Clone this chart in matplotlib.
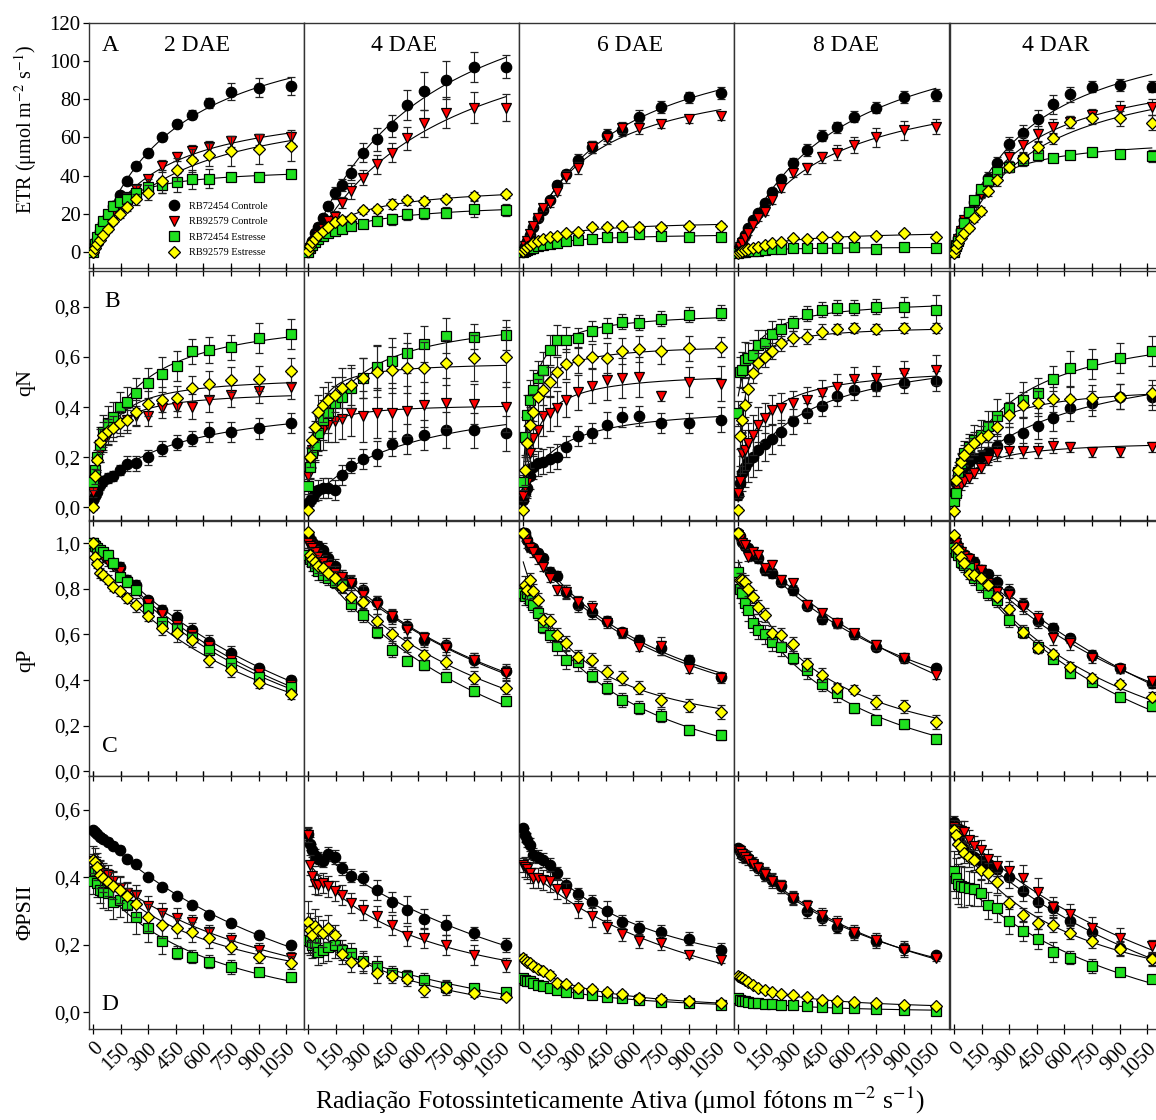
import numpy as np
import matplotlib
matplotlib.use("Agg")
import matplotlib.pyplot as plt
from matplotlib.lines import Line2D

plt.rcParams['font.family'] = ['Liberation Serif', 'DejaVu Serif']
plt.rcParams['mathtext.fontset'] = 'stix'

# light steps of the rapid light curves
par = [0, 10, 20, 35, 55, 80, 110, 145, 185, 235, 300, 375, 455, 535, 630, 750, 900, 1075]

days = ["2 DAE", "4 DAE", "6 DAE", "8 DAE", "4 DAR"]
series = ["RB72454 Controle", "RB92579 Controle", "RB72454 Estresse", "RB92579 Estresse"]

# every panel: [RB72454 Controle, RB92579 Controle, RB72454 Estresse, RB92579 Estresse]
etr_2dae = [
    [0, 4, 7, 11, 15, 19, 24, 30, 37, 45, 52, 60, 67, 72, 78, 84, 86, 87],
    [0, 3, 6, 9, 13, 17, 21, 25, 29, 33, 38, 45, 50, 53, 55, 58, 59, 60],
    [0, 4, 8, 12, 16, 20, 24, 26, 28, 31, 34, 35, 36.5, 38, 38.5, 39.5, 39.5, 41],
    [0, 2, 4, 6.5, 9, 12, 16, 20, 23.5, 27.5, 31, 37, 43, 48, 51, 53, 54, 55.7]]
etr_2dae_se = [
    [0.5, 0.5, 0.8, 1, 1, 1.2, 1.5, 1.5, 2, 2, 2, 2, 2, 2.5, 2.5, 4.5, 5, 4.5],
    [0.5, 0.5, 0.8, 1, 1, 1.2, 1.5, 1.5, 2, 2, 2.5, 3, 2.5, 3, 3, 3, 3, 3],
    [0.5, 0.5, 0.8, 1, 1.5, 2, 2.5, 3, 3, 4, 4, 4, 5, 5, 5, 2, 2, 2],
    [0.5, 0.5, 0.8, 1, 1, 1.5, 1.5, 2, 2, 3, 4, 6, 6, 6, 6, 8, 8, 8]]

etr_4dae = [
    [0, 3, 6, 10, 13, 18, 24, 31, 35, 41.5, 52, 59, 66, 77, 84.5, 90, 97, 97],
    [0, 2, 4, 6, 9, 12, 16, 18.5, 25.8, 32, 39, 46, 52, 59.5, 67.4, 73, 75.7, 75.7],
    [0, 2, 3.5, 5, 7, 8.5, 10, 11, 12, 13.5, 14.5, 16.4, 17.1, 19.7, 20.2, 20.6, 22.5, 22],
    [0.5, 3, 5, 7, 9, 11, 13.3, 15.9, 16.8, 17.6, 21.8, 22.3, 25, 27, 26.7, 28, 29.3, 30.2]]
etr_4dae_se = [
    [0.5, 1, 1, 1.5, 2, 2, 2, 3, 3, 4, 5, 6, 6, 8, 10, 10, 8, 6],
    [0.5, 1, 1, 1.5, 2, 2, 2, 3, 3, 4, 4, 5, 5, 6, 7, 8, 8, 7],
    [0.3, 0.5, 0.5, 1, 1, 1, 1.5, 1.5, 2, 2, 2, 2.5, 3, 3, 3, 3, 4, 3],
    [0.3, 0.5, 0.5, 1, 1, 1, 1.5, 1.5, 2, 2, 2, 2, 2.5, 2.5, 2, 2, 2, 2]]

etr_6dae = [
    [0, 3, 6, 9, 13, 17.6, 22, 27.2, 35, 40.8, 48.2, 55, 61.3, 63.9, 70.9, 76, 81, 83.4],
    [0, 3, 6, 9.5, 13.5, 18, 22.9, 25.8, 31.6, 39.4, 44, 55, 59.5, 65.2, 65, 67, 69.5, 71.2],
    [0, 0.5, 1, 1.6, 2.3, 3, 3.6, 4.2, 4.9, 5.9, 6.3, 6.8, 7.7, 7.7, 9.2, 8.4, 7.7, 7.7],
    [0.5, 1.5, 2.5, 3.5, 4.5, 5.5, 6.6, 7.7, 8.4, 9.8, 10.6, 12.9, 13.3, 13.6, 13.3, 13.3, 13.6, 13.6]]
etr_6dae_se = [
    [0.3, 0.5, 0.5, 0.8, 1, 1, 1.5, 1.5, 2, 2, 3, 3, 3, 3, 3.5, 3, 3, 3],
    [0.3, 0.5, 0.5, 0.8, 1, 1, 1.5, 2, 2, 3, 3, 3, 3, 3, 3, 2, 2, 2],
    [0.2, 0.2, 0.3, 0.3, 0.5, 0.5, 0.5, 0.5, 0.8, 1, 1, 1, 1, 1, 1, 1, 1, 1],
    [0.2, 0.2, 0.3, 0.3, 0.5, 0.5, 0.5, 0.5, 0.8, 1, 1, 1.5, 1.5, 1.5, 1.5, 1.5, 1.5, 1.5]]

etr_8dae = [
    [1, 3, 6, 9, 12.4, 16.8, 20.2, 25.5, 31.6, 38, 46.8, 53.4, 60.9, 65.3, 70.9, 75.7, 81.3, 82.2],
    [0.7, 2.8, 4.9, 7.2, 9.8, 14, 17.6, 21, 27.2, 33.3, 41.5, 43.8, 49.6, 52, 56, 60, 63.9, 65.6],
    [-0.3, -0.2, 0, 0.2, 0.3, 0.5, 0.7, 1, 1.4, 1.7, 1.9, 1.9, 1.9, 1.9, 2.4, 1.7, 2.8, 1.9],
    [-0.7, 0, 0.4, 0.9, 1.4, 2.1, 2.8, 3.7, 4.5, 5.4, 7.2, 6.8, 8, 7.7, 8, 8.6, 9.8, 8]]
etr_8dae_se = [
    [0.3, 0.5, 0.5, 0.8, 1, 1, 1.5, 1.5, 2, 2, 2.5, 3, 3, 3, 3, 3, 3, 3],
    [0.3, 0.5, 0.5, 0.8, 1, 1, 1.5, 1.5, 2, 2, 2, 3, 3, 4, 4, 5, 5, 4],
    [0.2, 0.2, 0.2, 0.3, 0.3, 0.3, 0.3, 0.4, 0.4, 0.5, 0.5, 0.5, 0.5, 0.5, 0.5, 0.5, 0.5, 0.5],
    [0.2, 0.2, 0.3, 0.3, 0.4, 0.4, 0.5, 0.5, 0.6, 0.7, 0.8, 0.8, 1, 1, 1, 1, 1, 1]]

etr_4dar = [
    [0.2, 3.7, 7.2, 11.5, 16.8, 21, 26.4, 30.9, 39, 46.8, 56.5, 62.5, 69.5, 77.3, 82.7, 86.6, 87.4, 86.6],
    [0, 3.5, 7, 11, 16.5, 20.5, 26, 30.5, 35.6, 41.2, 49.6, 56, 61.8, 65.6, 68.2, 71.7, 74.3, 76],
    [0, 3, 6, 10, 15, 21, 27, 33, 37, 42, 44.7, 48.2, 50.8, 49, 50.8, 52.5, 51.1, 50.3],
    [-0.7, 1.9, 4.5, 7.2, 9.8, 12.4, 17.6, 21.6, 32.1, 37.7, 44.7, 49.4, 55.1, 59.5, 68.2, 70, 70, 67.7]]
etr_4dar_se = [
    [0.5, 1, 1, 1, 1.5, 1.5, 2, 2, 3, 3, 4, 4, 5, 5, 4, 3, 3, 3],
    [0.5, 1, 1, 1, 1.5, 1.5, 2, 2, 3, 3, 4, 4, 4, 4, 3, 3, 5, 4],
    [0.5, 1, 1, 1, 1.5, 1.5, 2, 2, 2, 2, 3, 3, 3, 2, 2, 1.5, 1.5, 3],
    [0.5, 1, 1, 1, 1.5, 1.5, 2, 2, 3, 3, 3, 3, 3, 3, 3, 3, 4, 4]]

qn_2dae = [
    [0.03, 0.045, 0.06, 0.09, 0.105, 0.117, 0.125, 0.15, 0.174, 0.177, 0.2, 0.234, 0.259, 0.274, 0.30, 0.30, 0.315, 0.336],
    [0.06, 0.12, 0.18, 0.22, 0.26, 0.29, 0.32, 0.336, 0.35, 0.363, 0.363, 0.396, 0.402, 0.402, 0.429, 0.449, 0.465, 0.482],
    [0.1, 0.15, 0.2, 0.25, 0.3, 0.336, 0.36, 0.402, 0.422, 0.456, 0.498, 0.531, 0.564, 0.622, 0.628, 0.639, 0.677, 0.692],
    [0.0, 0.125, 0.19, 0.263, 0.29, 0.303, 0.316, 0.336, 0.347, 0.38, 0.413, 0.429, 0.436, 0.475, 0.493, 0.509, 0.513, 0.545]]
qn_2dae_se = [
    [0.01, 0.02, 0.02, 0.02, 0.02, 0.02, 0.02, 0.02, 0.03, 0.03, 0.03, 0.03, 0.03, 0.03, 0.04, 0.04, 0.04, 0.04],
    [0.02, 0.03, 0.03, 0.04, 0.04, 0.04, 0.04, 0.04, 0.04, 0.04, 0.04, 0.04, 0.04, 0.05, 0.05, 0.05, 0.05, 0.05],
    [0.03, 0.05, 0.06, 0.07, 0.07, 0.07, 0.06, 0.06, 0.06, 0.06, 0.06, 0.07, 0.06, 0.05, 0.05, 0.05, 0.06, 0.06],
    [0.01, 0.03, 0.04, 0.05, 0.05, 0.05, 0.05, 0.05, 0.05, 0.05, 0.05, 0.05, 0.05, 0.05, 0.05, 0.05, 0.05, 0.05]]

qn_4dae = [
    [0.017, 0.024, 0.037, 0.057, 0.07, 0.077, 0.077, 0.07, 0.13, 0.166, 0.193, 0.214, 0.254, 0.272, 0.29, 0.309, 0.307, 0.296],
    [0.124, 0.177, 0.23, 0.263, 0.29, 0.31, 0.33, 0.343, 0.352, 0.376, 0.363, 0.376, 0.378, 0.386, 0.409, 0.416, 0.413, 0.402],
    [0.084, 0.163, 0.216, 0.25, 0.296, 0.349, 0.376, 0.416, 0.442, 0.475, 0.515, 0.559, 0.586, 0.615, 0.652, 0.684, 0.681, 0.688],
    [-0.01, 0.2, 0.27, 0.32, 0.38, 0.41, 0.43, 0.45, 0.475, 0.49, 0.515, 0.542, 0.548, 0.555, 0.558, 0.578, 0.596, 0.599]]
qn_4dae_se = [
    [0.01, 0.02, 0.02, 0.03, 0.04, 0.04, 0.04, 0.04, 0.04, 0.03, 0.04, 0.05, 0.05, 0.06, 0.06, 0.07, 0.07, 0.07],
    [0.05, 0.06, 0.07, 0.08, 0.08, 0.08, 0.07, 0.08, 0.08, 0.09, 0.1, 0.1, 0.1, 0.1, 0.09, 0.1, 0.08, 0.1],
    [0.03, 0.05, 0.06, 0.06, 0.07, 0.08, 0.08, 0.07, 0.08, 0.08, 0.08, 0.09, 0.09, 0.08, 0.07, 0.07, 0.05, 0.06],
    [0.01, 0.04, 0.05, 0.06, 0.07, 0.07, 0.07, 0.07, 0.08, 0.08, 0.08, 0.1, 0.09, 0.1, 0.1, 0.09, 0.09, 0.12]]

qn_6dae = [
    [0.03, 0.057, 0.077, 0.124, 0.163, 0.177, 0.183, 0.193, 0.203, 0.243, 0.286, 0.296, 0.329, 0.36, 0.363, 0.336, 0.336, 0.349],
    [0.044, 0.08, 0.097, 0.216, 0.276, 0.309, 0.363, 0.376, 0.396, 0.429, 0.459, 0.485, 0.509, 0.515, 0.519, 0.445, 0.502, 0.493],
    [0.1, 0.28, 0.37, 0.43, 0.47, 0.515, 0.548, 0.628, 0.668, 0.668, 0.675, 0.705, 0.714, 0.741, 0.737, 0.752, 0.768, 0.777],
    [-0.01, 0.15, 0.256, 0.33, 0.382, 0.442, 0.469, 0.502, 0.542, 0.572, 0.588, 0.602, 0.595, 0.624, 0.632, 0.624, 0.635, 0.639]]
qn_6dae_se = [
    [0.01, 0.03, 0.04, 0.05, 0.05, 0.05, 0.05, 0.05, 0.05, 0.04, 0.04, 0.04, 0.05, 0.04, 0.04, 0.04, 0.04, 0.05],
    [0.02, 0.04, 0.05, 0.06, 0.07, 0.07, 0.08, 0.07, 0.07, 0.07, 0.07, 0.07, 0.08, 0.08, 0.08, 0.02, 0.06, 0.07],
    [0.03, 0.08, 0.08, 0.08, 0.08, 0.07, 0.07, 0.06, 0.06, 0.05, 0.04, 0.04, 0.04, 0.03, 0.03, 0.03, 0.03, 0.03],
    [0.01, 0.06, 0.07, 0.07, 0.07, 0.07, 0.06, 0.06, 0.06, 0.06, 0.05, 0.05, 0.06, 0.05, 0.05, 0.05, 0.05, 0.04]]

qn_8dae = [
    [0.05, 0.097, 0.137, 0.163, 0.183, 0.203, 0.23, 0.254, 0.272, 0.299, 0.343, 0.378, 0.405, 0.445, 0.469, 0.486, 0.498, 0.505],
    [0.057, 0.104, 0.216, 0.23, 0.256, 0.29, 0.33, 0.356, 0.389, 0.396, 0.416, 0.429, 0.458, 0.482, 0.511, 0.515, 0.535, 0.548],
    [0.376, 0.542, 0.548, 0.588, 0.595, 0.608, 0.648, 0.657, 0.692, 0.71, 0.734, 0.772, 0.788, 0.797, 0.797, 0.801, 0.798, 0.788],
    [-0.01, 0.283, 0.349, 0.409, 0.471, 0.535, 0.575, 0.602, 0.624, 0.655, 0.675, 0.681, 0.701, 0.71, 0.714, 0.71, 0.714, 0.714]]
qn_8dae_se = [
    [0.02, 0.05, 0.07, 0.08, 0.08, 0.08, 0.08, 0.07, 0.06, 0.05, 0.05, 0.04, 0.04, 0.04, 0.04, 0.04, 0.04, 0.04],
    [0.02, 0.06, 0.08, 0.08, 0.08, 0.08, 0.07, 0.06, 0.06, 0.06, 0.05, 0.05, 0.05, 0.05, 0.05, 0.05, 0.05, 0.06],
    [0.05, 0.06, 0.07, 0.07, 0.06, 0.06, 0.06, 0.05, 0.05, 0.04, 0.03, 0.03, 0.03, 0.03, 0.03, 0.03, 0.04, 0.06],
    [0.01, 0.05, 0.05, 0.05, 0.05, 0.04, 0.04, 0.04, 0.03, 0.03, 0.03, 0.03, 0.03, 0.02, 0.02, 0.02, 0.02, 0.02]]

qn_4dar = [
    [0.057, 0.097, 0.124, 0.143, 0.163, 0.183, 0.197, 0.203, 0.223, 0.246, 0.272, 0.296, 0.325, 0.356, 0.396, 0.416, 0.442, 0.44],
    [0.03, 0.05, 0.07, 0.09, 0.104, 0.117, 0.137, 0.157, 0.19, 0.216, 0.227, 0.227, 0.227, 0.246, 0.243, 0.22, 0.223, 0.24],
    [0.024, 0.057, 0.14, 0.177, 0.216, 0.243, 0.27, 0.29, 0.323, 0.363, 0.396, 0.429, 0.458, 0.513, 0.555, 0.571, 0.595, 0.625],
    [-0.016, 0.11, 0.15, 0.183, 0.21, 0.236, 0.259, 0.276, 0.29, 0.32, 0.369, 0.409, 0.416, 0.432, 0.432, 0.438, 0.442, 0.458]]
qn_4dar_se = [
    [0.02, 0.02, 0.03, 0.03, 0.04, 0.04, 0.04, 0.04, 0.04, 0.04, 0.05, 0.06, 0.05, 0.05, 0.05, 0.05, 0.05, 0.05],
    [0.01, 0.02, 0.02, 0.02, 0.02, 0.02, 0.02, 0.02, 0.02, 0.03, 0.03, 0.03, 0.03, 0.03, 0.02, 0.02, 0.02, 0.02],
    [0.01, 0.02, 0.03, 0.04, 0.05, 0.05, 0.06, 0.06, 0.06, 0.07, 0.06, 0.07, 0.06, 0.05, 0.07, 0.06, 0.06, 0.06],
    [0.01, 0.02, 0.03, 0.03, 0.04, 0.04, 0.04, 0.05, 0.05, 0.05, 0.05, 0.05, 0.05, 0.05, 0.05, 0.05, 0.05, 0.05]]

qp_2dae = [
    [1.0, 0.995, 0.985, 0.971, 0.956, 0.934, 0.912, 0.898, 0.839, 0.817, 0.751, 0.708, 0.678, 0.62, 0.569, 0.52, 0.452, 0.40],
    [1.0, 0.98, 0.97, 0.955, 0.94, 0.92, 0.9, 0.88, 0.83, 0.8, 0.74, 0.69, 0.64, 0.6, 0.55, 0.49, 0.43, 0.38],
    [1.0, 0.99, 0.98, 0.97, 0.96, 0.949, 0.912, 0.854, 0.832, 0.795, 0.715, 0.656, 0.627, 0.59, 0.532, 0.474, 0.415, 0.371],
    [1.0, 0.94, 0.91, 0.87, 0.86, 0.84, 0.81, 0.79, 0.76, 0.73, 0.68, 0.627, 0.605, 0.576, 0.488, 0.444, 0.386, 0.338]]
qp_2dae_se = [
    [0.01, 0.01, 0.01, 0.01, 0.02, 0.02, 0.02, 0.02, 0.02, 0.02, 0.02, 0.02, 0.03, 0.03, 0.03, 0.03, 0.02, 0.02],
    [0.01, 0.01, 0.01, 0.02, 0.02, 0.02, 0.02, 0.02, 0.02, 0.02, 0.02, 0.02, 0.02, 0.02, 0.02, 0.02, 0.02, 0.02],
    [0.01, 0.01, 0.01, 0.02, 0.02, 0.02, 0.02, 0.02, 0.02, 0.02, 0.02, 0.02, 0.02, 0.02, 0.02, 0.02, 0.02, 0.02],
    [0.01, 0.02, 0.02, 0.02, 0.02, 0.02, 0.02, 0.02, 0.02, 0.03, 0.02, 0.03, 0.04, 0.03, 0.03, 0.03, 0.02, 0.02]]

qp_4dae = [
    [1.04, 1.02, 1.007, 0.99, 0.99, 0.971, 0.934, 0.9, 0.854, 0.832, 0.795, 0.741, 0.678, 0.639, 0.576, 0.554, 0.488, 0.44],
    [1.0, 0.99, 0.98, 0.96, 0.94, 0.92, 0.9, 0.87, 0.854, 0.825, 0.773, 0.73, 0.683, 0.62, 0.583, 0.54, 0.488, 0.43],
    [0.95, 0.93, 0.92, 0.9, 0.88, 0.86, 0.846, 0.832, 0.817, 0.732, 0.686, 0.613, 0.532, 0.485, 0.466, 0.415, 0.352, 0.306],
    [1.05, 0.95, 0.93, 0.92, 0.9, 0.89, 0.87, 0.849, 0.81, 0.766, 0.741, 0.659, 0.601, 0.554, 0.51, 0.478, 0.411, 0.367]]
qp_4dae_se = [
    [0.01, 0.02, 0.02, 0.02, 0.02, 0.03, 0.03, 0.03, 0.03, 0.03, 0.03, 0.03, 0.03, 0.03, 0.03, 0.03, 0.03, 0.03],
    [0.02, 0.03, 0.03, 0.03, 0.03, 0.03, 0.03, 0.03, 0.03, 0.03, 0.04, 0.04, 0.03, 0.03, 0.03, 0.03, 0.03, 0.03],
    [0.03, 0.03, 0.04, 0.04, 0.04, 0.03, 0.03, 0.03, 0.03, 0.03, 0.03, 0.03, 0.03, 0.02, 0.02, 0.02, 0.02, 0.02],
    [0.01, 0.03, 0.03, 0.03, 0.03, 0.03, 0.03, 0.03, 0.03, 0.03, 0.03, 0.03, 0.03, 0.03, 0.02, 0.03, 0.03, 0.03]]

qp_6dae = [
    [1.044, 1.044, 1.015, 0.985, 0.978, 0.956, 0.934, 0.876, 0.858, 0.788, 0.73, 0.7, 0.659, 0.61, 0.576, 0.54, 0.488, 0.415],
    [1.04, 1.02, 1.0, 0.98, 0.96, 0.93, 0.898, 0.849, 0.795, 0.785, 0.741, 0.718, 0.649, 0.605, 0.547, 0.551, 0.449, 0.408],
    [0.78, 0.77, 0.78, 0.75, 0.73, 0.693, 0.635, 0.598, 0.55, 0.488, 0.481, 0.42, 0.367, 0.313, 0.279, 0.244, 0.181, 0.159],
    [1.044, 0.817, 0.795, 0.839, 0.791, 0.751, 0.664, 0.659, 0.598, 0.564, 0.503, 0.488, 0.434, 0.408, 0.367, 0.313, 0.288, 0.259]]
qp_6dae_se = [
    [0.01, 0.01, 0.02, 0.02, 0.02, 0.02, 0.02, 0.02, 0.02, 0.03, 0.03, 0.03, 0.02, 0.02, 0.02, 0.03, 0.02, 0.02],
    [0.01, 0.01, 0.02, 0.02, 0.02, 0.02, 0.02, 0.02, 0.02, 0.03, 0.03, 0.03, 0.02, 0.02, 0.02, 0.04, 0.02, 0.02],
    [0.03, 0.04, 0.04, 0.03, 0.03, 0.03, 0.03, 0.03, 0.04, 0.04, 0.04, 0.03, 0.03, 0.03, 0.03, 0.03, 0.02, 0.02],
    [0.01, 0.04, 0.04, 0.03, 0.03, 0.03, 0.03, 0.03, 0.03, 0.03, 0.03, 0.03, 0.03, 0.03, 0.03, 0.03, 0.03, 0.03]]

qp_8dae = [
    [1.044, 1.034, 1.007, 0.99, 0.978, 0.949, 0.934, 0.883, 0.868, 0.832, 0.795, 0.727, 0.668, 0.649, 0.601, 0.547, 0.496, 0.452],
    [1.037, 1.019, 1.0, 0.993, 0.941, 0.963, 0.949, 0.89, 0.905, 0.839, 0.825, 0.73, 0.693, 0.649, 0.605, 0.554, 0.499, 0.423],
    [0.876, 0.8, 0.78, 0.74, 0.708, 0.65, 0.62, 0.6, 0.569, 0.547, 0.499, 0.444, 0.382, 0.342, 0.276, 0.225, 0.206, 0.142],
    [1.044, 0.84, 0.84, 0.83, 0.8, 0.766, 0.722, 0.686, 0.608, 0.598, 0.558, 0.469, 0.423, 0.367, 0.357, 0.303, 0.284, 0.215]]
qp_8dae_se = [
    [0.01, 0.01, 0.01, 0.02, 0.02, 0.02, 0.02, 0.02, 0.02, 0.02, 0.02, 0.02, 0.02, 0.02, 0.02, 0.02, 0.02, 0.02],
    [0.01, 0.01, 0.01, 0.02, 0.02, 0.02, 0.02, 0.02, 0.02, 0.02, 0.02, 0.02, 0.02, 0.02, 0.02, 0.02, 0.02, 0.02],
    [0.04, 0.04, 0.04, 0.04, 0.05, 0.04, 0.04, 0.04, 0.04, 0.04, 0.03, 0.04, 0.03, 0.04, 0.02, 0.02, 0.02, 0.02],
    [0.01, 0.03, 0.03, 0.03, 0.03, 0.03, 0.03, 0.03, 0.03, 0.03, 0.03, 0.03, 0.03, 0.02, 0.02, 0.03, 0.03, 0.03]]

qp_4dar = [
    [1.029, 1.0, 0.978, 0.963, 0.949, 0.934, 0.92, 0.883, 0.864, 0.829, 0.791, 0.732, 0.66, 0.63, 0.583, 0.51, 0.452, 0.386],
    [1.02, 1.0, 0.98, 0.96, 0.945, 0.93, 0.898, 0.883, 0.825, 0.788, 0.773, 0.722, 0.671, 0.586, 0.561, 0.496, 0.449, 0.396],
    [0.978, 0.963, 0.949, 0.92, 0.905, 0.89, 0.846, 0.817, 0.781, 0.751, 0.664, 0.613, 0.547, 0.493, 0.43, 0.393, 0.327, 0.284],
    [1.037, 0.98, 0.971, 0.941, 0.912, 0.864, 0.861, 0.846, 0.817, 0.766, 0.711, 0.613, 0.539, 0.513, 0.459, 0.408, 0.382, 0.327]]
qp_4dar_se = [
    [0.01, 0.02, 0.02, 0.02, 0.02, 0.02, 0.02, 0.02, 0.02, 0.03, 0.03, 0.03, 0.03, 0.02, 0.02, 0.02, 0.02, 0.02],
    [0.01, 0.02, 0.02, 0.02, 0.02, 0.02, 0.02, 0.02, 0.02, 0.03, 0.03, 0.03, 0.03, 0.03, 0.03, 0.02, 0.02, 0.02],
    [0.02, 0.02, 0.02, 0.03, 0.03, 0.03, 0.03, 0.03, 0.03, 0.03, 0.03, 0.03, 0.03, 0.02, 0.02, 0.02, 0.02, 0.02],
    [0.01, 0.02, 0.02, 0.02, 0.02, 0.02, 0.02, 0.02, 0.02, 0.02, 0.02, 0.02, 0.02, 0.02, 0.02, 0.02, 0.02, 0.02]]

fpsii_2dae = [
    [0.541, 0.536, 0.529, 0.521, 0.514, 0.506, 0.494, 0.482, 0.454, 0.44, 0.401, 0.371, 0.345, 0.317, 0.289, 0.264, 0.228, 0.198],
    [0.45, 0.44, 0.43, 0.422, 0.412, 0.408, 0.39, 0.37, 0.353, 0.348, 0.316, 0.294, 0.279, 0.269, 0.239, 0.215, 0.185, 0.16],
    [0.39, 0.42, 0.383, 0.363, 0.358, 0.353, 0.328, 0.333, 0.318, 0.282, 0.249, 0.212, 0.177, 0.165, 0.15, 0.134, 0.119, 0.104],
    [0.452, 0.447, 0.432, 0.408, 0.398, 0.385, 0.375, 0.363, 0.345, 0.321, 0.282, 0.259, 0.249, 0.239, 0.22, 0.193, 0.165, 0.147]]
fpsii_2dae_se = [
    [0.01, 0.01, 0.01, 0.01, 0.01, 0.01, 0.01, 0.01, 0.01, 0.01, 0.01, 0.01, 0.01, 0.01, 0.01, 0.01, 0.01, 0.01],
    [0.02, 0.03, 0.03, 0.03, 0.03, 0.03, 0.03, 0.03, 0.03, 0.03, 0.03, 0.03, 0.03, 0.02, 0.02, 0.02, 0.02, 0.02],
    [0.04, 0.04, 0.04, 0.04, 0.05, 0.05, 0.05, 0.05, 0.05, 0.05, 0.04, 0.04, 0.02, 0.02, 0.02, 0.02, 0.01, 0.01],
    [0.04, 0.04, 0.04, 0.04, 0.04, 0.04, 0.04, 0.04, 0.04, 0.04, 0.04, 0.04, 0.03, 0.03, 0.03, 0.02, 0.02, 0.02]]

fpsii_4dae = [
    [0.53, 0.5, 0.48, 0.465, 0.455, 0.45, 0.469, 0.46, 0.427, 0.405, 0.398, 0.363, 0.328, 0.304, 0.277, 0.259, 0.234, 0.2],
    [0.526, 0.437, 0.403, 0.38, 0.378, 0.383, 0.373, 0.36, 0.348, 0.323, 0.304, 0.284, 0.259, 0.227, 0.22, 0.2, 0.17, 0.14],
    [0.215, 0.21, 0.2, 0.205, 0.18, 0.185, 0.192, 0.2, 0.185, 0.175, 0.152, 0.136, 0.116, 0.106, 0.096, 0.076, 0.073, 0.061],
    [0.269, 0.244, 0.229, 0.257, 0.244, 0.234, 0.249, 0.229, 0.172, 0.15, 0.145, 0.116, 0.106, 0.099, 0.066, 0.071, 0.056, 0.046]]
fpsii_4dae_se = [
    [0.02, 0.02, 0.02, 0.02, 0.02, 0.02, 0.02, 0.02, 0.02, 0.02, 0.02, 0.03, 0.03, 0.04, 0.03, 0.03, 0.02, 0.02],
    [0.02, 0.03, 0.03, 0.03, 0.03, 0.03, 0.03, 0.03, 0.03, 0.03, 0.03, 0.03, 0.03, 0.03, 0.03, 0.03, 0.03, 0.02],
    [0.04, 0.04, 0.04, 0.04, 0.04, 0.04, 0.04, 0.04, 0.03, 0.03, 0.03, 0.03, 0.02, 0.02, 0.02, 0.02, 0.01, 0.01],
    [0.06, 0.05, 0.05, 0.05, 0.04, 0.04, 0.04, 0.03, 0.03, 0.03, 0.03, 0.03, 0.02, 0.02, 0.02, 0.02, 0.01, 0.01]]

fpsii_6dae = [
    [0.546, 0.526, 0.511, 0.497, 0.467, 0.462, 0.452, 0.437, 0.412, 0.378, 0.35, 0.328, 0.299, 0.267, 0.251, 0.239, 0.218, 0.185],
    [0.437, 0.432, 0.425, 0.412, 0.398, 0.398, 0.393, 0.388, 0.366, 0.353, 0.309, 0.284, 0.254, 0.231, 0.21, 0.205, 0.17, 0.155],
    [0.101, 0.096, 0.093, 0.091, 0.086, 0.081, 0.079, 0.071, 0.066, 0.059, 0.056, 0.051, 0.046, 0.042, 0.037, 0.03, 0.027, 0.022],
    [0.162, 0.155, 0.15, 0.145, 0.138, 0.129, 0.121, 0.111, 0.086, 0.083, 0.071, 0.069, 0.059, 0.053, 0.043, 0.04, 0.032, 0.027]]
fpsii_6dae_se = [
    [0.01, 0.02, 0.02, 0.02, 0.02, 0.02, 0.02, 0.02, 0.02, 0.02, 0.02, 0.02, 0.03, 0.02, 0.02, 0.02, 0.02, 0.02],
    [0.02, 0.03, 0.03, 0.03, 0.03, 0.03, 0.03, 0.03, 0.03, 0.03, 0.03, 0.03, 0.02, 0.02, 0.02, 0.02, 0.01, 0.01],
    [0.01, 0.01, 0.01, 0.01, 0.01, 0.01, 0.01, 0.01, 0.01, 0.01, 0.01, 0.01, 0.01, 0.01, 0.01, 0.01, 0.01, 0.01],
    [0.01, 0.01, 0.01, 0.01, 0.01, 0.01, 0.01, 0.01, 0.01, 0.01, 0.01, 0.01, 0.01, 0.01, 0.01, 0.01, 0.01, 0.01]]

fpsii_8dae = [
    [0.487, 0.477, 0.467, 0.462, 0.457, 0.442, 0.427, 0.408, 0.393, 0.373, 0.338, 0.299, 0.279, 0.254, 0.234, 0.21, 0.19, 0.17],
    [0.482, 0.477, 0.469, 0.462, 0.452, 0.439, 0.427, 0.41, 0.39, 0.373, 0.34, 0.314, 0.289, 0.264, 0.239, 0.215, 0.185, 0.162],
    [0.042, 0.037, 0.034, 0.032, 0.03, 0.028, 0.026, 0.025, 0.024, 0.022, 0.02, 0.017, 0.014, 0.012, 0.012, 0.009, 0.007, 0.004],
    [0.106, 0.103, 0.101, 0.096, 0.089, 0.081, 0.071, 0.066, 0.059, 0.053, 0.051, 0.044, 0.037, 0.034, 0.03, 0.027, 0.022, 0.017]]
fpsii_8dae_se = [
    [0.01, 0.02, 0.02, 0.02, 0.02, 0.02, 0.02, 0.02, 0.02, 0.02, 0.02, 0.02, 0.02, 0.02, 0.02, 0.02, 0.02, 0.01],
    [0.01, 0.01, 0.01, 0.01, 0.01, 0.01, 0.01, 0.02, 0.02, 0.02, 0.02, 0.02, 0.02, 0.02, 0.02, 0.02, 0.02, 0.01],
    [0.005, 0.005, 0.005, 0.005, 0.005, 0.005, 0.005, 0.005, 0.005, 0.005, 0.005, 0.005, 0.005, 0.005, 0.005, 0.005, 0.005, 0.005],
    [0.005, 0.005, 0.005, 0.005, 0.005, 0.005, 0.005, 0.005, 0.005, 0.005, 0.005, 0.005, 0.005, 0.005, 0.005, 0.005, 0.005, 0.005]]

fpsii_4dar = [
    [0.563, 0.54, 0.52, 0.5, 0.485, 0.47, 0.46, 0.45, 0.44, 0.424, 0.4, 0.36, 0.328, 0.309, 0.271, 0.239, 0.19, 0.16],
    [0.55, 0.545, 0.54, 0.538, 0.536, 0.511, 0.493, 0.482, 0.455, 0.434, 0.419, 0.398, 0.358, 0.313, 0.291, 0.251, 0.221, 0.195],
    [0.419, 0.398, 0.38, 0.373, 0.372, 0.369, 0.366, 0.355, 0.318, 0.309, 0.272, 0.241, 0.217, 0.178, 0.162, 0.137, 0.12, 0.098],
    [0.54, 0.526, 0.5, 0.491, 0.472, 0.462, 0.452, 0.422, 0.412, 0.385, 0.325, 0.289, 0.266, 0.259, 0.236, 0.21, 0.187, 0.157]]
fpsii_4dar_se = [
    [0.02, 0.02, 0.02, 0.02, 0.02, 0.02, 0.02, 0.02, 0.02, 0.02, 0.03, 0.03, 0.03, 0.02, 0.02, 0.02, 0.02, 0.02],
    [0.02, 0.02, 0.02, 0.03, 0.03, 0.03, 0.03, 0.03, 0.03, 0.03, 0.03, 0.04, 0.04, 0.03, 0.03, 0.03, 0.03, 0.02],
    [0.06, 0.06, 0.06, 0.06, 0.06, 0.05, 0.05, 0.04, 0.04, 0.04, 0.04, 0.03, 0.03, 0.03, 0.02, 0.02, 0.01, 0.01],
    [0.02, 0.03, 0.03, 0.03, 0.03, 0.03, 0.03, 0.03, 0.03, 0.03, 0.02, 0.02, 0.02, 0.02, 0.02, 0.02, 0.02, 0.02]]

rows = [
    ([etr_2dae, etr_4dae, etr_6dae, etr_8dae, etr_4dar],
     [etr_2dae_se, etr_4dae_se, etr_6dae_se, etr_8dae_se, etr_4dar_se]),
    ([qn_2dae, qn_4dae, qn_6dae, qn_8dae, qn_4dar],
     [qn_2dae_se, qn_4dae_se, qn_6dae_se, qn_8dae_se, qn_4dar_se]),
    ([qp_2dae, qp_4dae, qp_6dae, qp_8dae, qp_4dar],
     [qp_2dae_se, qp_4dae_se, qp_6dae_se, qp_8dae_se, qp_4dar_se]),
    ([fpsii_2dae, fpsii_4dae, fpsii_6dae, fpsii_8dae, fpsii_4dar],
     [fpsii_2dae_se, fpsii_4dae_se, fpsii_6dae_se, fpsii_8dae_se, fpsii_4dar_se]),
]

markers = ['o', 'v', 's', 'D']
colors = ['#000000', '#ff0000', '#1fe01f', '#ffff00']
msizes = [7.5, 7.5, 6.5, 6.2]

row_limits = [(-8.4, 120), (-0.05, 0.943), (-0.021, 1.098), (-0.05, 0.701)]
row_ticks = [np.arange(0, 121, 20), np.arange(0, 0.81, 0.2),
             np.arange(0, 1.01, 0.2), np.arange(0, 0.61, 0.2)]
panel_letters = ['A', 'B', 'C', 'D']
letter_pos = [(0.098, 0.91), (0.11, 0.876), (0.098, 0.114), (0.098, 0.096)]
title_x = [0.5, 0.465, 0.516, 0.52, 0.493]


def fit_curve(x, y):
    # y = a + b*x/(c+x), c by grid search, a and b by least squares
    x = np.asarray(x, float)
    y = np.asarray(y, float)
    best = None
    for c in np.geomspace(2, 50000, 400):
        h = x / (c + x)
        A = np.column_stack([np.ones_like(h), h])
        coef = np.linalg.lstsq(A, y, rcond=None)[0]
        sse = np.sum((A @ coef - y) ** 2)
        if best is None or sse < best[0]:
            best = (sse, c, coef)
    _, c, (a, b) = best
    xs = np.linspace(0, x.max(), 200)
    return xs, a + b * xs / (c + xs)


W, H = 1156, 1120
fig = plt.figure(figsize=(W / 100, H / 100), dpi=100)

col_left = [89, 304, 519, 734, 950]
col_w = 215
row_top = [23, 271, 521, 776]
row_bot = [268, 520, 776, 1029]

for r, (panels, errs) in enumerate(rows):
    for c in range(5):
        ax = fig.add_axes([col_left[c] / W, 1 - row_bot[r] / H,
                           col_w / W, (row_bot[r] - row_top[r]) / H])
        for k in range(4):
            y = panels[c][k]
            xs, ys = fit_curve(par, y)
            ax.plot(xs, ys, color='black', lw=0.8, zorder=2)
        for k in range(4):
            ax.errorbar(par, panels[c][k], yerr=errs[c][k], fmt=markers[k],
                        ms=msizes[k], mfc=colors[k], mec='black', mew=0.9,
                        ecolor='#222222', elinewidth=0.8, capsize=3,
                        capthick=0.8, zorder=3 + k)

        ax.set_xlim(-23, 1147)
        ax.set_ylim(*row_limits[r])
        ax.set_xticks(np.arange(0, 1051, 150))
        ax.set_yticks(row_ticks[r])
        for s in ax.spines.values():
            s.set_color('#333333')
            s.set_linewidth(1.0)

        ax.tick_params(axis='x', direction='inout', length=7, width=0.9,
                       top=(r > 0), bottom=True, labelsize=15)
        if r == 3:
            ax.set_xticklabels([str(v) for v in range(0, 1051, 150)],
                               rotation=45, ha='right', va='top',
                               rotation_mode='anchor')
        else:
            ax.set_xticklabels([])

        if c == 0:
            ax.tick_params(axis='y', direction='out', length=4, width=0.9,
                           labelsize=15, pad=2)
            if r == 0:
                ax.set_yticklabels([str(int(v)) for v in row_ticks[r]])
            else:
                ax.set_yticklabels([f"{v:.1f}".replace('.', ',') for v in row_ticks[r]])
            ax.text(*letter_pos[r], panel_letters[r], transform=ax.transAxes,
                    fontsize=17, ha='center', va='center')
        else:
            ax.tick_params(axis='y', left=False, labelleft=False)

        if r == 0:
            ax.text(title_x[c], 0.91, days[c], transform=ax.transAxes,
                    fontsize=17, ha='center', va='center')
        if r == 0 and c == 0:
            handles = [Line2D([], [], ls='none', marker=markers[k], ms=msizes[k],
                              mfc=colors[k], mec='black', mew=0.9)
                       for k in range(4)]
            ax.legend(handles, series, loc='upper left',
                      bbox_to_anchor=(0.36, 0.272), frameon=False, fontsize=7.5,
                      handlelength=1.5, handletextpad=0.7, labelspacing=0.6,
                      borderpad=0, borderaxespad=0)

fig.text(0.022, 1 - 130 / H, 'ETR (μmol m$^{-2}$ s$^{-1}$)', rotation=90,
         ha='center', va='center', fontsize=14.5)
fig.text(0.022, 1 - 382 / H, 'qN', rotation=90, ha='center', va='center', fontsize=16)
fig.text(0.022, 1 - 660 / H, 'qP', rotation=90, ha='center', va='center', fontsize=16)
fig.text(0.022, 1 - 912 / H, 'ΦPSII', rotation=90, ha='center', va='center', fontsize=16)
fig.text(620 / W, 1 - 1100 / H,
         'Radiação Fotossinteticamente Ativa (μmol fótons m$^{-2}$ s$^{-1}$)',
         ha='center', va='center', fontsize=18.5)

fig.savefig('out.png', dpi=100)
